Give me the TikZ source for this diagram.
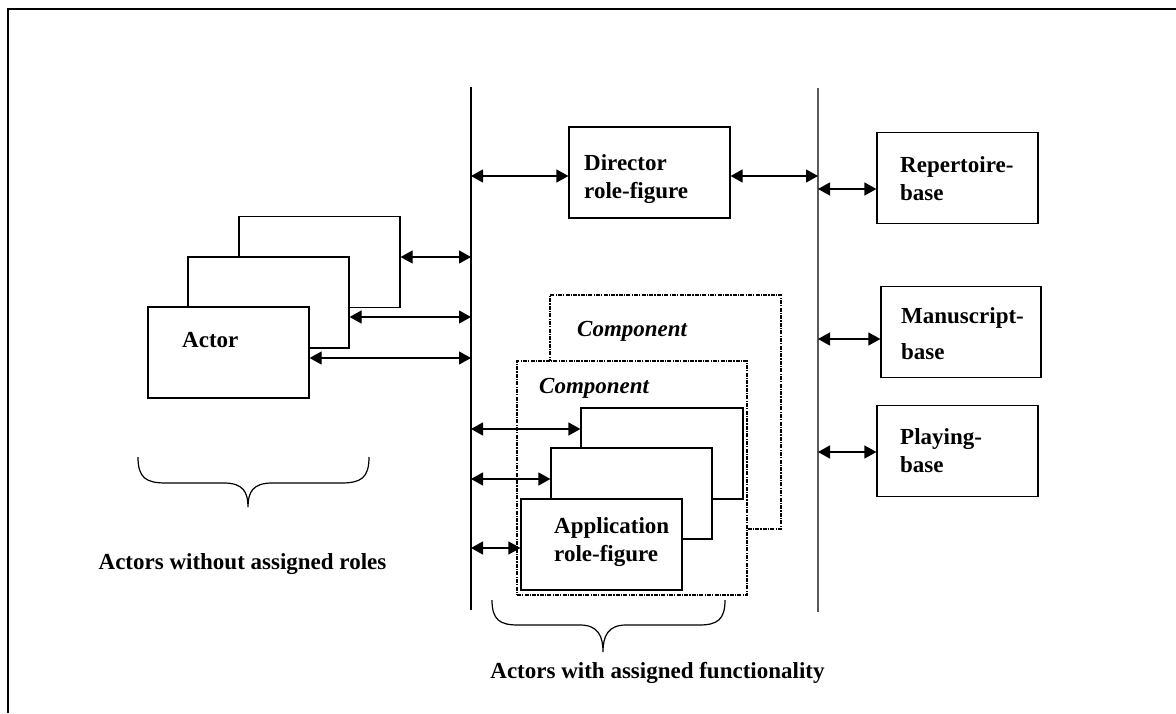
\documentclass[tikz,border=0pt]{standalone}
\usepackage{fontspec}
\setmainfont{Liberation Serif}
\usetikzlibrary{arrows.meta}

\begin{document}
\begin{tikzpicture}[x=1pt,y=-1pt,
    box/.style={draw, fill=white, line width=1.2pt, minimum width=161pt, minimum height=91pt, inner sep=0pt},
    comp/.style={draw, fill=white, line width=1.3pt, dash pattern=on 4pt off 1.2pt on 1.2pt off 1.2pt, inner sep=0pt},
    txt/.style={inner sep=0pt, align=left, font=\bfseries\fontsize{23}{28}\selectfont},
    ittxt/.style={txt, font=\bfseries\itshape\fontsize{23}{28}\selectfont},
    dbl/.style={line width=1.2pt, {Triangle[length=12pt,width=13pt]}-{Triangle[length=12pt,width=13pt]}}]
    \useasboundingbox (0,0) rectangle (1176,713);
    % frame, only its top and left edges fall on the page
    \draw[line width=2pt] (8,713) -- (8,9) -- (1176,9);

    % the two vertical buses
    \coordinate (lbusT) at (471,87);
    \coordinate (lbusB) at (471,610);
    \coordinate (rbusT) at (818,88);
    \coordinate (rbusB) at (818,612);
    \draw[line width=1.2pt] (lbusT) -- (lbusB);
    \draw[line width=1.2pt, black!65] (rbusT) -- (rbusB);

    % director and the three bases
    \node[box] (director) at (649.5,172.5) {};
    \node[txt, anchor=west] (dirtxt) at (584,179.5) {Director\\role-figure};
    \node[box] (repertoire) at (957.5,178) {};
    \node[txt, anchor=west] (reptxt) at (900,178.5) {Repertoire-\\base};
    \node[box, minimum width=160pt] (manuscript) at (961,332) {};
    \node[txt, anchor=west] (mantxt) at (901,334) {Manuscript-\\[8pt]base};
    \node[box] (playing) at (957.5,451) {};
    \node[txt, anchor=west] (playtxt) at (900,451) {Playing-\\base};

    % stack of actors, back to front
    \node[box] (actor1) at (319.5,262) {};
    \node[box] (actor2) at (268.5,302.5) {};
    \node[box] (actor3) at (228.5,352.5) {};
    \node[txt, anchor=west] (actortxt) at (182,340) {Actor};

    % components holding the application role-figures
    \node[comp, minimum width=231pt, minimum height=234pt] (comp1) at (665.5,412) {};
    \node[ittxt, anchor=west] (comp1txt) at (577,331) {Component};
    \node[comp, minimum width=230pt, minimum height=234pt] (comp2) at (632,478) {};
    \node[ittxt, anchor=west] (comp2txt) at (539,388) {Component};
    \node[box, minimum width=162pt] (app1) at (662,453.5) {};
    \node[box] (app2) at (631.5,493.5) {};
    \node[box] (app3) at (601.5,544.5) {};
    \node[txt, anchor=west] (apptxt) at (554,542) {Application\\role-figure};

    % connectors to the buses
    \draw[dbl] ([yshift=-3.5pt]director.west -| lbusT) -- ([yshift=-3.5pt]director.west);
    \draw[dbl] ([yshift=-3.5pt]director.east) -- ([yshift=-3.5pt]director.east -| rbusT);
    \draw[dbl] ([yshift=-11pt]repertoire.west -| rbusT) -- ([yshift=-11pt]repertoire.west);
    \draw[dbl] ([yshift=-7pt]manuscript.west -| rbusT) -- ([yshift=-7pt]manuscript.west);
    \draw[dbl] ([yshift=-1pt]playing.west -| rbusT) -- ([yshift=-1pt]playing.west);
    \draw[dbl] ([yshift=5pt]actor1.east) -- ([yshift=5pt]actor1.east -| lbusT);
    \draw[dbl] ([yshift=-14.5pt]actor2.east) -- ([yshift=-14.5pt]actor2.east -| lbusT);
    \draw[dbl] ([yshift=-5.5pt]actor3.east) -- ([yshift=-5.5pt]actor3.east -| lbusT);
    \draw[dbl] ([yshift=24.5pt]app1.west -| lbusT) -- ([yshift=24.5pt]app1.west);
    \draw[dbl] ([yshift=14.5pt]app2.west -| lbusT) -- ([yshift=14.5pt]app2.west);
    \draw[dbl] ([yshift=-3.5pt]app3.west -| lbusT) -- ([yshift=-3.5pt]app3.west);

    % braces and their captions
    \draw[line width=1.2pt] (138,457) .. controls (138,478) and (146,483) .. (166,483) -- (224,483)
        .. controls (243,483) and (248,492) .. (248,507) .. controls (248,492) and (253,483) .. (272,483)
        -- (341,483) .. controls (361,483) and (369,478) .. (369,457);
    \node[txt] (lefttxt) at (242.5,564) {Actors without assigned roles};
    \draw[line width=1.2pt] (492,600) .. controls (492,620) and (500,625) .. (518,625) -- (580,625)
        .. controls (598,625) and (603,636) .. (603,652) .. controls (603,636) and (608,625) .. (626,625)
        -- (699,625) .. controls (717,625) and (725,620) .. (725,600);
    \node[txt] (midtxt) at (657.5,673) {Actors with assigned functionality};
\end{tikzpicture}
\end{document}
